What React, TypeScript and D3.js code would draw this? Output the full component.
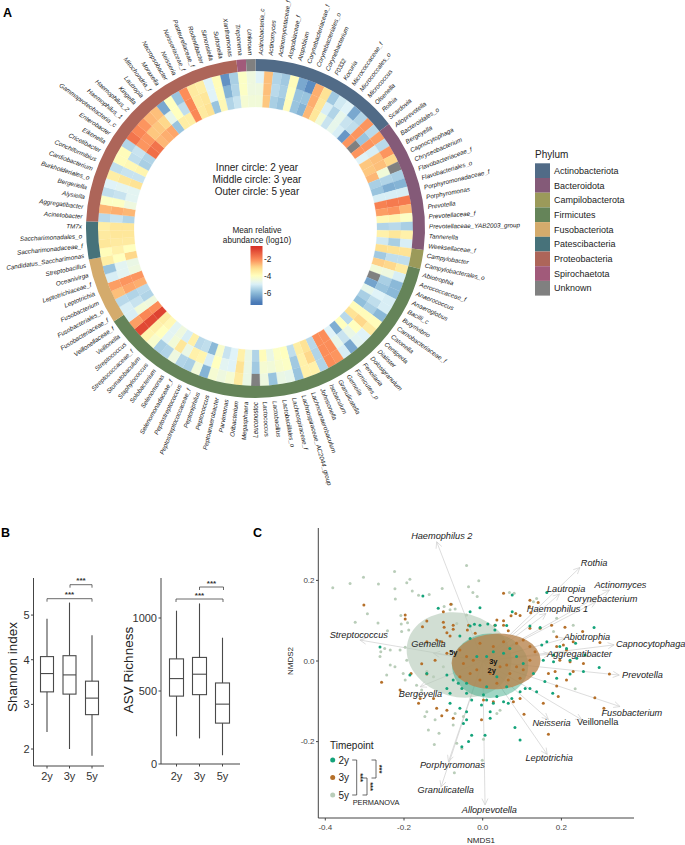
import React from "react";
import * as d3 from "d3";

const FONT = '"Liberation Sans", Arial, sans-serif';

const phylumNames = ["Actinobacteriota","Bacteroidota","Campilobacterota","Firmicutes","Fusobacteriota","Patescibacteria","Proteobacteria","Spirochaetota","Unknown"];
const phylumColors = ["#516b87","#845a78","#9b9a5a","#658459","#d4ab6c","#47727a","#ad6559","#a15a7a","#808080"];
const phylumCounts = [16,14,2,41,7,4,25,1,1];

const taxa = ["Actinobacteria_c","Actinomyces","Actinomycetaceae_f","Atopobiaceae_f","Atopobium","Corynebacteriaceae_f","Corynebacteriales_o","Corynebacterium","F0332","Kocuria","Micrococcaceae_f","Micrococcales_o","Micrococcus","Olsenella","Rothia","Scardovia",
"Alloprevotella","Bacteroidales_o","Bergeyella","Capnocytophaga","Chryseobacterium","Flavobacteriaceae_f","Flavobacteriales_o","Porphyromonadaceae_f","Porphyromonas","Prevotella","Prevotellaceae_f","Prevotellaceae_YAB2003_group","Tannerella","Weeksellaceae_f",
"Campylobacter","Campylobacterales_o",
"Abiotrophia","Aerococcaceae_f","Anaerococcus","Anaeroglobus","Bacilli_c","Butyrivibrio","Carnobacteriaceae_f","Catonella","Centipeda","Dialister","Dolosigranulum","Fenollaria","Firmicutes_p","Gemella","Granulicatella","Isobaculum","Johnsonella","Lachnoanaerobaculum","Lachnospiraceae_AC2044_group","Lachnospiraceae_f","Lactobacillales_o","Lactobacillus","Lactococcus","Leuconostoc","Megasphaera","Oribacterium","Parvimonas","Peptoanaerobacter","Peptococcus","Peptoniphilus","Peptostreptococcaceae_f","Peptostreptococcus","Selenomonadaceae_f","Selenomonas","Solobacterium","Staphylococcus","Stomatobaculum","Streptococcaceae_f","Streptococcus","Veillonella","Veillonellaceae_f",
"Fusobacteriaceae_f","Fusobacteriales_o","Fusobacterium","Leptotrichia","Leptotrichiaceae_f","Oceanivirga","Streptobacillus",
"Candidatus_Saccharimonas","Saccharimonadaceae_f","Saccharimonadales_o","TM7x",
"Acinetobacter","Aggregatibacter","Alysiella","Bergeriella","Burkholderiales_o","Cardiobacterium","Conchiformibius","Cricetibacter","Eikenella","Enterobacter","Gammaproteobacteria_c","Haemophilus_1","Haemophilus_2","Kingella","Lautropia","Mitochondria_f","Moraxella","Necropsobacter","Neisseria","Neisseriaceae_f","Pasteurellaceae_f","Rodentibacter","Simonsiella","Suttonella","Xanthomonas",
"Treponema","Unknown"];

const N = null;
const inner2y = [-4.4,-2.8,-5.6,-5.8,-3.9,-5.8,-6.1,-2.6,-3.3,-4.4,-5.2,-4.7,-5,-6.6,-2.2,N,-2.2,-4.9,-2.8,-2.8,-2.6,-5.6,-5.8,-5,-1.9,-2.3,-3.8,-5.5,-3.6,-5.1,-3.1,-5.7,-2.9,-4.4,N,-6.4,-4.7,-5.6,-5.9,-3.9,-3.2,-5.4,-4,-6.2,-4.9,-2.1,-2.1,-5.4,-3.2,-3.5,-5.3,-4,-4.1,-4.6,-3.9,-5.5,-4.6,-3.6,-4.9,-5.2,-4.2,-6,-5.3,-5.4,-3.6,-5,-4.5,-4.8,-3.8,-3.5,-0.9,-2.1,-4.5,-5.5,-5.4,-2.5,-2.2,-4.5,-4.6,-3,-4,-3.4,-3.3,-3.3,-5.5,-2.6,-4.5,-4.8,-4.8,-3.2,-5.2,-3.7,-5.6,-5.5,-1.6,-1.7,-2.6,-2.5,-2.4,-5.8,-3.5,-3.5,-2,-3.4,-3.2,-5.8,-3.8,-5.5,-5.2,-4.3,-4.4];
const middle3y = [-4.5,-2.7,-5.4,-5.6,-4,-5.8,-5.8,-2.5,-3.3,-5,-5.5,-4.7,-5.2,-5.3,-2.2,-5.8,-2.2,-5,-2.7,-2.7,-4.4,-5.5,-6.2,-5,-1.8,-2.2,-3.7,-5.4,-3.3,-5.6,-3.2,-5.3,-3,-4.5,-5.6,-5.8,-4.9,-5.3,-5.6,-3.9,-3,-4,-4.6,-5.2,-4.7,-2.1,-2.1,-5.5,-3,-3.6,-5.7,-4.1,-4.2,-4.4,-4.3,-5.7,-4.6,-3.2,-4.9,-4.8,-4,-5,-3.7,-3.6,-4.6,-3.3,-4.4,-4.8,-4,-3.6,-1,-2,-4.4,-5.2,-5.5,-2.4,-2.2,-4.8,-4.8,-4,-3.6,-3.4,-3.3,-3.3,-5.2,-2.5,-4.1,-5.2,-4.8,-3.3,-5.2,-3.8,-5.3,-5.2,-2.2,-2.2,-2.8,-2.8,-3,-4.7,-4,-5.3,-2,-3.4,-3.3,-4.9,-3.9,-6.1,-5.5,-4.1,-4.5];
const outer5y = [-4.9,-2.7,-5.5,-5.7,-3.9,-6.3,-6.8,-2.5,-3.2,-5.7,-5.1,-4.9,-6.3,-5.5,-2.2,-5.4,-2.3,-5.4,-2.2,-3,N,-5.6,-6.1,-5,-1.8,-2.6,-4.1,-5.6,-3.6,-5,-3.2,-5.3,-3.4,-5,-6,-6,-5,-5,-6,-3.9,-3.4,-4.9,-4.8,-6.3,-5,-2.2,-2.1,-5.5,-3.6,-3.6,-5.8,-4.7,-4.6,-5.8,-4.5,N,-4.6,-3.4,-4.3,-4.5,-4.3,-6.1,-4.4,-5.6,-5.5,-4.5,-5.5,-5.6,-4.2,-3.7,-1,-2.3,-5,-5,-5.4,-2.7,-2.3,-5,-5.8,-3.5,-3.9,-3.3,-3.4,-3.5,-5.4,-2.6,-4.1,-5.3,-4.9,-3.5,-5.3,-3.9,-3.9,-5.5,-1.7,-2,-2.2,-2.6,-2.7,-6.3,-4,-5.8,-2.1,-3.4,-3.5,-4.9,-3.9,-6.7,-5.6,-4.1,-4.5];

const centerNotes = ["Inner circle: 2 year","Middle circle: 3 year","Outer circle: 5 year"];
const colorTicks = [-2,-4,-6];
const colorDomain = [-0.6,-2.1,-3.1,-4,-4.9,-5.9,-7.2];
const colorStops = ["#d73027","#fc8d59","#fee090","#ffffbf","#e0f3f8","#91bfdb","#4575b4"];

const boxCats = ["2y","3y","5y"];
// lo, q1, median, q3, hi
const shannonBoxes = [[2.38,3.28,3.69,4.07,4.92],[2.0,3.23,3.66,4.09,5.28],[1.85,2.77,3.14,3.52,4.55]];
const richnessBoxes = [[190,465,585,720,1050],[175,475,615,730,1100],[60,280,410,555,865]];

const pts2y = [[-.152,.161],[-.261,.035],[-.113,.131],[-.032,.087],[-.021,.091],[-.007,.089],[.013,.092],[.032,.089],[.061,.088],[-.007,.132],[-.032,.122],[.075,.164],[.163,.170],[.075,.122],[.120,.087],[.146,.083],[.283,.083],[.236,.044],[.163,.048],[.150,.040],[.196,.036],[-.058,.062],[-.032,.056],[.031,.077],[.239,.007],[.180,.015],[.213,.031],[-.185,-.035],[-.142,-.031],[-.091,-.035],[-.075,-.047],[-.062,-.055],[-.053,-.068],[-.091,-.068],[-.083,-.080],[-.041,-.080],[-.083,-.105],[-.058,-.117],[-.041,-.126],[-.041,-.146],[-.049,-.155],[-.028,-.184],[-.036,-.200],[-.053,-.213],[.006,-.184],[-.003,-.109],[.010,-.097],[.027,-.105],[.019,-.126],[.019,-.142],[.053,-.101],[.065,-.105],[.074,-.093],[.095,-.076],[.108,-.068],[.120,-.068],[.137,-.076],[.158,-.051],[.178,-.080],[.256,-.026],[.296,-.016],[.222,-.032],[.188,-.043],[.154,.002],[.180,-.002],[.222,.002],[.260,.015],[.082,-.165],[.095,-.196],[-.028,-.097],[.002,-.084],[.036,-.088],[.086,.011],[.053,.019],[-.015,.011],[.036,-.039],[.061,-.064],[.010,-.064],[.103,-.006],[.129,-.031],[-.041,-.055],[.027,.023],[.069,.031],[.010,.011]];
const pts3y = [[-.302,.139],[-.197,.104],[-.197,.114],[-.142,.099],[-.153,.085],[-.100,.122],[-.081,.141],[-.100,.096],[-.098,.084],[-.075,.089],[-.075,.079],[-.091,.070],[-.117,.052],[-.142,.048],[-.104,.048],[-.083,.062],[-.036,.089],[-.039,.077],[-.019,.069],[.053,.168],[.120,.151],[.119,.135],[.141,.145],[.122,.120],[.084,.118],[.095,.113],[.072,.112],[.036,.102],[.053,.100],[.031,.089],[.065,.075],[.120,.081],[.146,.081],[.175,.089],[.209,.084],[.254,.073],[.188,.060],[.230,.048],[.298,.046],[.205,.040],[.188,.036],[.213,.027],[.053,.089],[-.257,-.053],[-.210,-.072],[-.182,-.031],[-.155,-.007],[-.121,.002],[-.091,.019],[-.142,-.032],[-.163,-.105],[-.159,-.093],[-.125,-.093],[-.117,-.117],[-.091,-.122],[-.104,-.136],[-.075,-.142],[-.003,-.146],[.002,-.097],[.027,-.101],[.078,-.101],[.095,-.093],[.105,-.132],[.154,-.105],[.167,-.182],[.192,-.088],[.188,-.062],[.167,-.031],[.184,-.026],[.213,-.047],[.230,-.026],[.285,-.091],[.308,-.117],[.322,-.032],[.256,-.006],[.222,-.002],[.196,.002],[-.049,-.006],[-.024,.002],[-.015,-.022],[.019,-.031],[.044,-.014],[.061,-.010],[.069,-.031],[.086,-.014],[.103,-.022],[.120,.002],[-.058,-.039],[-.007,-.047],[.036,-.055],[.065,-.047],[.095,-.043],[-.032,-.031],[-.058,.027],[-.041,.011],[-.007,.044],[.027,.036],[.053,.048],[.086,.044],[.103,.052],[.120,.036],[.133,.023]];
const pts5y = [[-.381,.182],[-.337,.192],[-.303,.208],[-.265,.191],[-.224,.222],[-.193,.194],[-.185,.203],[-.223,.179],[-.179,.174],[-.222,.154],[-.163,.163],[-.136,.165],[-.103,.180],[-.041,.237],[-.010,.199],[-.036,.184],[-.025,.170],[-.014,.160],[-.293,.117],[-.324,.096],[-.266,.094],[-.208,.113],[-.207,.092],[-.191,.095],[-.188,.077],[-.206,.073],[-.242,.075],[-.249,.031],[-.235,.027],[-.261,.011],[-.197,.034],[-.210,.027],[-.079,.141],[-.070,.129],[-.083,.127],[-.098,.135],[-.041,.114],[.068,.170],[.080,.168],[-.066,.093],[.137,.155],[.129,.147],[.188,.106],[.230,.089],[.180,.073],[-.259,.023],[-.235,-.010],[-.223,-.014],[-.244,-.035],[-.202,-.031],[-.197,-.047],[-.168,-.060],[-.142,-.026],[-.100,-.014],[-.125,-.039],[-.155,-.072],[-.142,-.126],[-.147,-.138],[-.121,-.146],[-.138,-.171],[-.111,-.179],[-.123,-.207],[-.066,-.204],[-.053,-.217],[-.001,-.246],[-.072,-.277],[.002,-.194],[-.049,-.138],[-.075,-.159],[-.070,-.130],[.044,-.122],[.036,-.130],[.235,-.069],[-.193,.002]];

const vectorNames = ["Haemophilus 2","Rothia","Lautropia","Actinomyces","Corynebacterium","Haemophilus 1","Abiotrophia","Capnocytophaga","Aggregatibacter","Prevotella","Fusobacterium","Veillonella","Neisseria","Leptotrichia","Alloprevotella","Granulicatella","Porphyromonas","Bergeyella","Gemella","Streptococcus"];
const vectorX = [-.117,.247,.195,.322,.288,.161,.209,.334,.171,.347,.349,.252,.167,.164,.006,-.106,-.087,-.159,-.125,-.312];
const vectorY = [.296,.232,.166,.176,.147,.118,.056,.040,.017,-.035,-.113,-.146,-.145,-.232,-.357,-.313,-.250,-.064,.019,.052];
const vectorLabelX = [-.104,.283,.212,.350,.304,.190,.265,.427,.246,.406,.379,.292,.175,.169,.017,-.094,-.077,-.158,-.138,-.315];
const vectorLabelY = [.311,.244,.178,.188,.153,.129,.059,.042,.018,-.035,-.130,-.151,-.155,-.241,-.370,-.320,-.257,-.081,.042,.065];

// centre x, centre y, radius x, radius y, rotation (deg)
const ell5y = [-.06,.015,.135,.104,15];
const ell2y = [.019,-.012,.097,.08,0];
const ell3y = [.034,-.001,.113,.069,-3];
const timeColors = ["#14a37a","#b5702a","#b9cdb9"];

function Box({ data, x, y, bw, cats }: any) {
  return <g>{data.map((d: number[], i: number) => {
    const cx = x(cats[i]) as number;
    return <g key={i} stroke="#4a4a4a" strokeWidth={1.1} fill="none">
      <line x1={cx} x2={cx} y1={y(d[0])} y2={y(d[4])} />
      <rect x={cx - bw / 2} width={bw} y={y(d[3])} height={y(d[1]) - y(d[3])} fill="#fff" />
      <line x1={cx - bw / 2} x2={cx + bw / 2} y1={y(d[2])} y2={y(d[2])} />
    </g>;
  })}</g>;
}

function Bracket({ x1, x2, y, dy }: any) {
  return <g>
    <path d={`M${x1},${y + 3}V${y}H${x2}V${y + 3}`} fill="none" stroke="#444" strokeWidth={0.8} />
    <text x={(x1 + x2) / 2} y={y + dy} textAnchor="middle" fontSize={8} fontWeight="bold" fill="#333">***</text>
  </g>;
}

export default function App() {
  const cx = 255.5, cy = 228.5;
  const step = (2 * Math.PI) / taxa.length;
  const angle = d3.scaleLinear().domain([0, taxa.length]).range([0, 2 * Math.PI]);
  const color = d3.scaleLinear<string>().domain(colorDomain).range(colorStops).clamp(true);
  const cellColor = (v: number | null) => (v === null ? "#808080" : color(v));
  const arc = d3.arc();
  const rings = [[121.5, 133.5, inner2y], [133.5, 145.5, middle3y], [145.5, 157.5, outer5y]] as any[];
  const starts = d3.cumsum([0, ...phylumCounts]);
  const barValue = d3.scaleLinear().domain([0, 1]).range([-0.5, -7.4]);

  const yS = d3.scaleLinear().domain([1.62, 5.83]).range([766, 578]);
  const xS = d3.scalePoint().domain(boxCats).range([47, 92]);
  const yR = d3.scaleLinear().domain([0, 1274]).range([764, 578]);
  const xR = d3.scalePoint().domain(boxCats).range([176.5, 222.5]);

  const nx = d3.scaleLinear().domain([0, 0.2]).range([482.7, 561.4]);
  const ny = d3.scaleLinear().domain([0, 0.2]).range([661, 580.4]);
  const dots = [pts5y, pts3y, pts2y];
  const dotCols = [timeColors[2], timeColors[1], timeColors[0]];

  const ellipse = (e: number[], fill: string, op: number) => {
    const rx = nx(e[2]) - nx(0), ry = ny(0) - ny(e[3]);
    return <ellipse rx={rx} ry={ry} fill={fill} fillOpacity={op}
      transform={`translate(${nx(e[0])},${ny(e[1])}) rotate(${e[4]})`} />;
  };

  return (
    <svg width={685} height={845} style={{ position: "absolute", left: 0, top: 0, fontFamily: FONT }}>
      <rect width={685} height={845} fill="#fff" />
      <defs>
        <linearGradient id="cb" x1="0" y1="0" x2="0" y2="1">
          {d3.range(0, 1.01, 0.05).map((t) => <stop key={t} offset={t} stopColor={color(barValue(t))} />)}
        </linearGradient>
      </defs>
      <text x={3} y={17} fontSize={12.5} fontWeight="bold">A</text>
      <text x={1} y={537} fontSize={12.5} fontWeight="bold">B</text>
      <text x={253} y={537} fontSize={12.5} fontWeight="bold">C</text>

      {/* Panel A */}
      <g transform={`translate(${cx},${cy})`}>
        {rings.map(([r0, r1, vals]: any, k: number) => vals.map((v: number | null, i: number) => (
          <path key={`${k}-${i}`} fill={cellColor(v)} stroke={cellColor(v)} strokeWidth={0.2}
            d={arc({ innerRadius: r0, outerRadius: r1, startAngle: angle(i), endAngle: angle(i + 1) }) as string} />
        )))}
        {phylumNames.map((p, k) => (
          <path key={p} fill={phylumColors[k]}
            d={arc({ innerRadius: 157.5, outerRadius: 169.5, startAngle: angle(starts[k]), endAngle: angle(starts[k + 1]) }) as string} />
        ))}
        {taxa.map((t, i) => {
          const deg = ((i + 0.5) * step * 180) / Math.PI;
          const right = deg < 180;
          return <text key={i} transform={`rotate(${deg - 90}) translate(173.5,0)${right ? "" : " rotate(180)"}`}
            textAnchor={right ? "start" : "end"} dominantBaseline="central" fontSize={6.3} fontStyle="italic" fill="#222">{t}</text>;
        })}
      </g>
      {centerNotes.map((s, i) => <text key={s} x={257} y={170.5 + i * 12.4} textAnchor="middle" fontSize={10} fill="#222">{s}</text>)}
      <text x={257} y={232.5} textAnchor="middle" fontSize={8.2} fill="#222">Mean relative</text>
      <text x={257} y={243} textAnchor="middle" fontSize={8.2} fill="#222">abundance (log10)</text>
      <rect x={250.5} y={246} width={12} height={59} fill="url(#cb)" />
      {colorTicks.map((t) => {
        const y = 259 + (-2 - t) * 8.5;
        return <text key={t} x={264} y={y + 3} fontSize={8.2} fill="#222">{t}</text>;
      })}

      {/* Phylum legend */}
      <text x={535} y={158} fontSize={10} fill="#222">Phylum</text>
      {phylumNames.map((p, i) => <g key={p}>
        <rect x={535} y={163.3 + i * 14.7} width={15} height={14.7} fill={phylumColors[i]} />
        <text x={554} y={173.8 + i * 14.7} fontSize={9} fill="#222">{p}</text>
      </g>)}

      {/* Panel B */}
      <path d="M33.5,578V766H104" fill="none" stroke="#444" strokeWidth={1} />
      {[2, 3, 4, 5].map((t) => <g key={t}>
        <line x1={31} x2={33.5} y1={yS(t)} y2={yS(t)} stroke="#444" />
        <text x={29.5} y={yS(t) + 4} textAnchor="end" fontSize={11} fill="#333">{t}</text>
      </g>)}
      <Box data={shannonBoxes} x={xS} y={yS} bw={13} cats={boxCats} />
      {boxCats.map((c) => <g key={c}>
        <line x1={xS(c)} x2={xS(c)} y1={766} y2={768.5} stroke="#444" />
        <text x={xS(c)} y={780} textAnchor="middle" fontSize={11} fill="#333">{c}</text>
      </g>)}
      <text transform="translate(17,667) rotate(-90)" textAnchor="middle" fontSize={13.5} fill="#222">Shannon index</text>
      <Bracket x1={70} x2={92} y={584.7} dy={-1.5} />
      <Bracket x1={47} x2={92} y={598.7} dy={-1.5} />

      <path d="M161,578V764H240" fill="none" stroke="#444" strokeWidth={1} />
      {[0, 500, 1000].map((t) => <g key={t}>
        <line x1={158.5} x2={161} y1={yR(t)} y2={yR(t)} stroke="#444" />
        <text x={157} y={yR(t) + 4} textAnchor="end" fontSize={11} fill="#333">{t}</text>
      </g>)}
      <Box data={richnessBoxes} x={xR} y={yR} bw={14} cats={boxCats} />
      {boxCats.map((c) => <g key={c}>
        <line x1={xR(c)} x2={xR(c)} y1={764} y2={766.5} stroke="#444" />
        <text x={xR(c)} y={780} textAnchor="middle" fontSize={11} fill="#333">{c}</text>
      </g>)}
      <text transform="translate(133,670) rotate(-90)" textAnchor="middle" fontSize={13.5} fill="#222">ASV Richness</text>
      <Bracket x1={199.5} x2={223.5} y={587} dy={-1.5} />
      <Bracket x1={176} x2={223} y={599} dy={-1.5} />

      {/* Panel C */}
      {vectorNames.map((v, i) => {
        const x0 = nx(0), y0 = ny(0), x1 = nx(vectorX[i]), y1 = ny(vectorY[i]);
        const a = Math.atan2(y1 - y0, x1 - x0);
        const h = (s: number) => `L${x1 - 7 * Math.cos(a + s)},${y1 - 7 * Math.sin(a + s)}`;
        return <path key={v} d={`M${x0},${y0}L${x1},${y1}${h(0.45)}M${x1},${y1}${h(-0.45)}`} fill="none" stroke="#cfcfcf" strokeWidth={0.7} />;
      })}
      {ellipse(ell5y, "#b5c9b8", 0.62)}
      {ellipse(ell2y, "#2ea57f", 0.45)}
      {ellipse(ell3y, "#b8854f", 0.8)}
      {dots.map((pts, k) => pts.map((p, i) => <circle key={`${k}-${i}`} cx={nx(p[0])} cy={ny(p[1])} r={1.5} fill={dotCols[k]} />))}
      <path d="M318.3,528V818H634" fill="none" stroke="#444" strokeWidth={1} />
      {[-0.2, 0, 0.2].map((t) => <g key={t}>
        <line x1={316} x2={318.3} y1={ny(t)} y2={ny(t)} stroke="#444" />
        <text x={314.5} y={ny(t) + 2.8} textAnchor="end" fontSize={8} fill="#444">{t.toFixed(1)}</text>
      </g>)}
      {[-0.4, -0.2, 0, 0.2].map((t) => <g key={t}>
        <line x1={nx(t)} x2={nx(t)} y1={818} y2={820.5} stroke="#444" />
        <text x={nx(t)} y={829.5} textAnchor="middle" fontSize={8} fill="#444">{t.toFixed(1)}</text>
      </g>)}
      <text x={481} y={843} textAnchor="middle" fontSize={8} fill="#222">NMDS1</text>
      <text transform="translate(293,661) rotate(-90)" textAnchor="middle" fontSize={8} fill="#222">NMDS2</text>
      {vectorNames.map((v, i) => (
        <text key={v} x={nx(vectorLabelX[i])} y={ny(vectorLabelY[i]) + 3} textAnchor="middle" fontSize={9.2}
          fontStyle={v === "Veillonella" ? "normal" : "italic"} fill="#222">{v}</text>
      ))}
      <text x={453.3} y={654.5} textAnchor="middle" fontSize={7.5} fontWeight="bold" fill="#111">5y</text>
      <text x={493.3} y={664} textAnchor="middle" fontSize={7.5} fontWeight="bold" fill="#111">3y</text>
      <text x={491.7} y={673} textAnchor="middle" fontSize={7.5} fontWeight="bold" fill="#111">2y</text>

      <text x={330} y={749} fontSize={10} fill="#222">Timepoint</text>
      {boxCats.map((c, i) => <g key={c}>
        <circle cx={332.7} cy={760 + i * 17.5} r={2.5} fill={timeColors[i]} />
        <text x={338.5} y={763.5 + i * 17.5} fontSize={10} fill="#222">{c}</text>
      </g>)}
      {[[356.7, 760, 795], [367, 778, 795], [376, 760, 778]].map(([x, a, b], i) => <g key={i}>
        <path d={`M${x - 4.5},${a}H${x}V${b}H${x - 4.5}`} fill="none" stroke="#444" strokeWidth={0.8} />
        <text transform={`translate(${x + 1},${(a + b) / 2}) rotate(90)`} textAnchor="middle" fontSize={7.5} fontWeight="bold" fill="#222">***</text>
      </g>)}
      <text x={376} y={804.5} textAnchor="middle" fontSize={7.4} fill="#222">PERMANOVA</text>
    </svg>
  );
}
